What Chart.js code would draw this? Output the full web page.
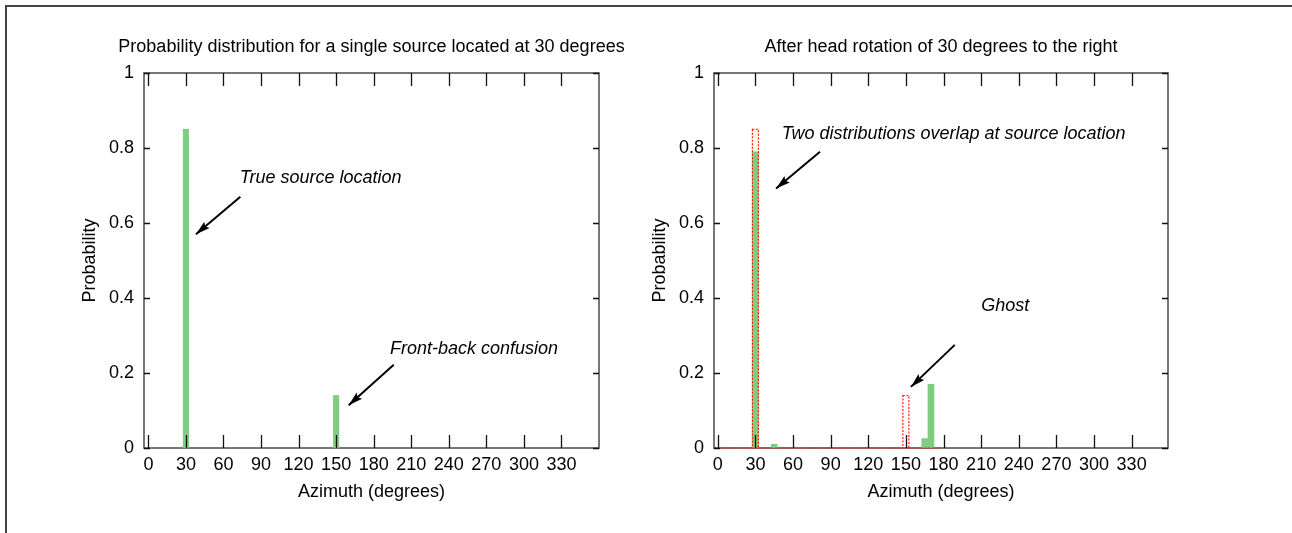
<!DOCTYPE html>
<html><head><meta charset="utf-8">
<script src="https://cdn.jsdelivr.net/npm/chart.js@4/dist/chart.umd.min.js"></script>
<style>
html,body{margin:0;padding:0;background:#fff;width:1292px;height:533px;overflow:hidden;position:relative}
#frame{position:absolute;left:5px;top:5px;width:1400px;height:700px;border-left:2px solid #444;border-top:2px solid #444}
canvas{position:absolute;top:0}
#c1{left:0}
#c2{left:646px}
</style></head><body>
<div id="frame"></div>
<canvas id="c1" width="646" height="533"></canvas>
<canvas id="c2" width="646" height="533"></canvas>
<script>
// ---- data ----
const xTickValues = [0, 30, 60, 90, 120, 150, 180, 210, 240, 270, 300, 330];
const xTickLabels = ['0', '30', '60', '90', '120', '150', '180', '210', '240', '270', '300', '330'];
const yTickValues = [0, 0.2, 0.4, 0.6, 0.8, 1];
const yTickLabels = ['0', '0.2', '0.4', '0.6', '0.8', '1'];

const leftTitle = 'Probability distribution for a single source located at 30 degrees';
const rightTitle = 'After head rotation of 30 degrees to the right';
const xTitle = 'Azimuth (degrees)';
const yTitle = 'Probability';

// single source distribution (left)
const leftAzimuth = [30, 150];
const leftProb = [0.85, 0.14];

// after rotation (right, green)
const rightAzimuth = [30, 45, 165, 170];
const rightProb = [0.79, 0.01, 0.025, 0.17];

// previous distribution (right, red dotted outline)
const priorAzimuth = [0, 5, 10, 15, 20, 25, 30, 35, 40, 45, 50, 55, 60, 65, 70, 75, 80, 85,
                      90, 95, 100, 105, 110, 115, 120, 125, 130, 135, 140, 145, 150, 155, 160, 165, 170, 175];
const priorProb = [0, 0, 0, 0, 0, 0, 0.85, 0, 0, 0, 0, 0, 0, 0, 0, 0, 0, 0,
                   0, 0, 0, 0, 0, 0, 0, 0, 0, 0, 0, 0, 0.14, 0, 0, 0, 0, 0];

// annotations (data coordinates)
const leftNoteText = ['True source location', 'Front-back confusion'];
const leftNoteX = [73, 193];
const leftNoteY = [0.72, 0.265];
const leftArrowFrom = [[73.5, 0.67], [196, 0.222]];
const leftArrowTo = [[38, 0.57], [160, 0.114]];

const rightNoteText = ['Two distributions overlap at source location', 'Ghost'];
const rightNoteX = [51, 210];
const rightNoteY = [0.838, 0.379];
const rightArrowFrom = [[81.5, 0.79], [189, 0.275]];
const rightArrowTo = [[46.5, 0.692], [154, 0.163]];

// ---- rendering ----
Chart.defaults.font.family = "'Liberation Sans', Arial, Helvetica, sans-serif";
Chart.defaults.font.size = 18;
Chart.defaults.color = '#000';

const GREEN = '#80cc80';
const RED = '#ff1a00';

function toPts(xs, ys) { return xs.map((x, i) => ({x: x, y: ys[i]})); }

function drawArrow(ctx, x1, y1, x2, y2) {
  ctx.beginPath(); ctx.moveTo(x1, y1); ctx.lineTo(x2, y2); ctx.stroke();
  const ang = Math.atan2(y2 - y1, x2 - x1);
  const len = 15, spread = 0.28;
  ctx.beginPath();
  ctx.moveTo(x2, y2);
  ctx.lineTo(x2 - len * Math.cos(ang - spread), y2 - len * Math.sin(ang - spread));
  ctx.lineTo(x2 - len * 0.8 * Math.cos(ang), y2 - len * 0.8 * Math.sin(ang));
  ctx.lineTo(x2 - len * Math.cos(ang + spread), y2 - len * Math.sin(ang + spread));
  ctx.closePath(); ctx.fill();
}

function makePlugin(title, noteText, noteX, noteY, arrFrom, arrTo) {
  return {
    id: 'gp',
    beforeDatasetsDraw(chart) {
      const ctx = chart.ctx, a = chart.chartArea;
      ctx.save();
      ctx.strokeStyle = '#555'; ctx.lineWidth = 1.6;
      ctx.strokeRect(a.left, a.top, a.right - a.left, a.bottom - a.top);
      ctx.restore();
    },
    afterDatasetsDraw(chart) {
      const ctx = chart.ctx, xs = chart.scales.x, ys = chart.scales.y, a = chart.chartArea;
      // dotted outlines
      chart.data.datasets.forEach((ds, i) => {
        if (!ds.dotted) return;
        const meta = chart.getDatasetMeta(i);
        ctx.save();
        ctx.strokeStyle = RED; ctx.lineWidth = 1.2; ctx.setLineDash([2, 1.5]);
        meta.data.forEach(el => {
          const p = el.getProps(['x', 'y', 'base', 'width'], true);
          const l = p.x - p.width / 2, r = p.x + p.width / 2;
          ctx.beginPath();
          if (Math.abs(p.base - p.y) < 0.5) {
            ctx.moveTo(l, p.base); ctx.lineTo(r, p.base);
          } else {
            ctx.rect(l, p.y, p.width, p.base - p.y);
          }
          ctx.stroke();
        });
        ctx.restore();
      });
      ctx.save();
      // ticks (inward, mirrored)
      ctx.strokeStyle = '#111'; ctx.lineWidth = 1.3;
      ctx.beginPath();
      xs.ticks.forEach(t => {
        const px = Math.round(xs.getPixelForValue(t.value)) + 0.5;
        ctx.moveTo(px, a.bottom); ctx.lineTo(px, a.bottom - 13);
        ctx.moveTo(px, a.top); ctx.lineTo(px, a.top + 13);
      });
      ys.ticks.forEach(t => {
        const py = Math.round(ys.getPixelForValue(t.value)) + 0.5;
        ctx.moveTo(a.left, py); ctx.lineTo(a.left + 6, py);
        ctx.moveTo(a.right, py); ctx.lineTo(a.right - 6, py);
      });
      ctx.stroke();
      // title
      ctx.fillStyle = '#000';
      ctx.font = "18px 'Liberation Sans', Arial, sans-serif";
      ctx.textAlign = 'center'; ctx.textBaseline = 'middle';
      ctx.fillText(title, (a.left + a.right) / 2, 47);
      // notes
      ctx.font = "italic 18px 'Liberation Sans', Arial, sans-serif";
      ctx.textAlign = 'left';
      noteText.forEach((t, i) => {
        ctx.fillText(t, xs.getPixelForValue(noteX[i]), ys.getPixelForValue(noteY[i]));
      });
      // arrows
      ctx.strokeStyle = '#000'; ctx.lineWidth = 2;
      arrFrom.forEach((f, i) => {
        drawArrow(ctx, xs.getPixelForValue(f[0]), ys.getPixelForValue(f[1]),
                  xs.getPixelForValue(arrTo[i][0]), ys.getPixelForValue(arrTo[i][1]));
      });
      ctx.restore();
    }
  };
}

function build(id, datasets, xMin, xMax, yAxisWidth, rightPad, yTitlePad, plugin) {
  return new Chart(document.getElementById(id), {
    type: 'bar',
    data: {datasets: datasets},
    options: {
      responsive: false, animation: false, devicePixelRatio: 1,
      layout: {padding: {top: 73, left: 0, right: rightPad, bottom: 0}},
      plugins: {legend: {display: false}, tooltip: {enabled: false}, title: {display: false}},
      datasets: {bar: {grouped: false}},
      scales: {
        x: {
          type: 'linear', min: xMin, max: xMax, offset: false,
          grid: {display: false, drawTicks: false}, border: {display: false},
          afterBuildTicks: s => { s.ticks = xTickValues.map(v => ({value: v})); },
          afterFit: s => { s.height = 85; },
          ticks: {padding: 6, maxRotation: 0, autoSkip: false, color: '#000',
                  callback: (v, i) => xTickLabels[i]},
          title: {display: true, text: xTitle, color: '#000', padding: {top: 0, bottom: 30}}
        },
        y: {
          type: 'linear', min: 0, max: 1,
          grid: {display: false, drawTicks: false}, border: {display: false},
          afterBuildTicks: s => { s.ticks = yTickValues.map(v => ({value: v})); },
          afterFit: s => { s.width = yAxisWidth; },
          ticks: {padding: 10, color: '#000', callback: (v, i) => yTickLabels[i]},
          title: {display: true, text: yTitle, color: '#000', padding: {top: yTitlePad, bottom: 0}}
        }
      }
    },
    plugins: [plugin]
  });
}

build('c1', [
  {data: toPts(leftAzimuth, leftProb), backgroundColor: GREEN, borderWidth: 0, barThickness: 5.5}
], -3.5, 360, 144, 47, 79,
  makePlugin(leftTitle, leftNoteText, leftNoteX, leftNoteY, leftArrowFrom, leftArrowTo));

build('c2', [
  {data: toPts(rightAzimuth, rightProb), backgroundColor: GREEN, borderWidth: 0, barThickness: 6},
  {data: toPts(priorAzimuth, priorProb), backgroundColor: 'rgba(0,0,0,0)', borderWidth: 0, barThickness: 6, dotted: true}
], -3, 359, 68, 124, 3,
  makePlugin(rightTitle, rightNoteText, rightNoteX, rightNoteY, rightArrowFrom, rightArrowTo));
</script>
</body></html>
